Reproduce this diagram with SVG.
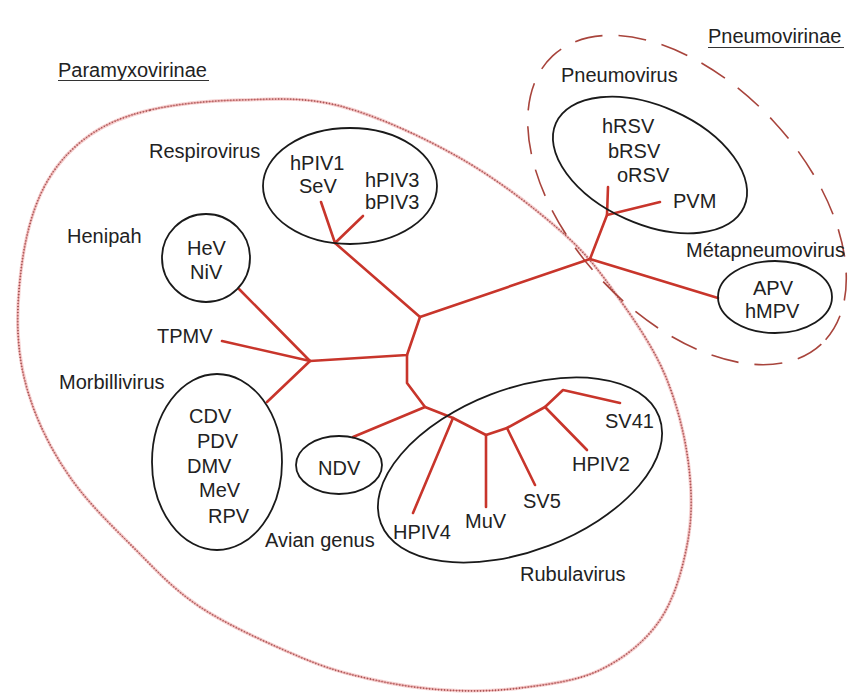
<svg xmlns="http://www.w3.org/2000/svg" width="852" height="693" viewBox="0 0 852 693">
<style>
text{font-family:"Liberation Sans",Arial,Helvetica,sans-serif;font-size:20px;fill:#222}
.box{fill:none;stroke:#1a1a1a;stroke-width:1.8}
.br{fill:none;stroke:#c8352b;stroke-width:2.6;stroke-linecap:round;stroke-linejoin:round}
.ul{stroke:#333;stroke-width:1.2}
</style>
<defs>
<path id="paraOutline" d="M150,110 C175,104.2 208.3,100.7 240,100 C271.7,99.3 303.3,96.3 340,106 C376.7,115.7 422.8,136.8 460,158 C497.2,179.2 536.3,209.3 563,233 C589.7,256.7 603,276.3 620,300 C637,323.7 653.7,348.3 665,375 C676.3,401.7 684.2,432.5 688,460 C691.8,487.5 692.7,513.3 688,540 C683.3,566.7 674.7,598.3 660,620 C645.3,641.7 623.3,658.7 600,670 C576.7,681.3 545.8,684.7 520,688 C494.2,691.3 470,691.5 445,690 C420,688.5 394.2,684.5 370,679 C345.8,673.5 328.3,669 300,657 C271.7,645 227.8,625.3 200,607 C172.2,588.7 154.3,568.2 133,547 C111.7,525.8 88.7,503.3 72,480 C55.3,456.7 42,431.5 33,407 C24,382.5 19.3,360 18,333 C16.7,306 20,270.5 25,245 C30,219.5 37.2,198.3 48,180 C58.8,161.7 73,146.7 90,135 C107,123.3 125,115.8 150,110 Z"/>
</defs>
<rect width="852" height="693" fill="#fff"/>
<g id="paramyxovirinae">
<use href="#paraOutline" fill="none" stroke="#f6d2d2" stroke-width="3.4"/>
<use href="#paraOutline" fill="none" stroke="#e07a7a" stroke-width="0.8"/>
<use href="#paraOutline" fill="none" stroke="#a05656" stroke-width="1.8" stroke-dasharray="1 2"/>
<text x="58" y="77">Paramyxovirinae</text>
<line class="ul" x1="58" y1="80.5" x2="209" y2="80.5"/>
</g>
<g id="pneumovirinae">
<ellipse cx="687" cy="200" rx="197" ry="117" transform="rotate(47 687 200)" fill="none" stroke="#a8443c" stroke-width="1.6" stroke-dasharray="28 16"/>
<text x="708" y="43">Pneumovirinae</text>
<line class="ul" x1="708" y1="47.5" x2="844" y2="47.5"/>
</g>
<g id="connectors">
<path class="br" d="M321,202 L335,243 L363,216"/>
<path class="br" d="M335,243 L420,317 L590,259"/>
<path class="br" d="M420,317 L407,355 L310,361"/>
<path class="br" d="M239,289 L310,361 L222,341"/>
<path class="br" d="M310,361 L267,402"/>
<path class="br" d="M407,355 L407,383 L425,407 L353,437"/>
<path class="br" d="M425,407 L453,418 L486,435 L507,428 L545,407 L563,390 L620,403"/>
<path class="br" d="M453,418 L413,513"/>
<path class="br" d="M486,435 L486,507"/>
<path class="br" d="M507,428 L535,485"/>
<path class="br" d="M545,407 L587,450"/>
<path class="br" d="M590,259 L607,215 L608,187"/>
<path class="br" d="M607,215 L660,202"/>
<path class="br" d="M590,259 L718,298"/>
</g>
<g id="respirovirus">
<ellipse class="box" cx="350" cy="186" rx="87" ry="58"/>
<text x="149" y="158">Respirovirus</text>
<text x="290" y="170">hPIV1</text>
<text x="299" y="193">SeV</text>
<text x="365" y="187">hPIV3</text>
<text x="365" y="209">bPIV3</text>
</g>
<g id="henipah">
<circle class="box" cx="206" cy="258" r="44"/>
<text x="67" y="243">Henipah</text>
<text x="187" y="255">HeV</text>
<text x="190" y="279">NiV</text>
</g>
<g id="tpmv">
<text x="157" y="343">TPMV</text>
</g>
<g id="morbillivirus">
<ellipse class="box" cx="217" cy="462" rx="65" ry="88"/>
<text x="59" y="389">Morbillivirus</text>
<text x="189" y="423">CDV</text>
<text x="197" y="448">PDV</text>
<text x="187" y="473">DMV</text>
<text x="199" y="497">MeV</text>
<text x="208" y="523">RPV</text>
</g>
<g id="avian">
<ellipse class="box" cx="339" cy="465" rx="43" ry="29"/>
<text x="318" y="475">NDV</text>
<text x="265" y="547">Avian genus</text>
</g>
<g id="rubulavirus">
<ellipse class="box" cx="520" cy="470" rx="149" ry="81" transform="rotate(-21 520 470)"/>
<text x="393" y="539">HPIV4</text>
<text x="465" y="528">MuV</text>
<text x="523" y="508">SV5</text>
<text x="572" y="471">HPIV2</text>
<text x="605" y="428">SV41</text>
<text x="520" y="581">Rubulavirus</text>
</g>
<g id="pneumovirus">
<ellipse class="box" cx="650" cy="165" rx="103" ry="59" transform="rotate(24 650 165)"/>
<text x="561" y="82">Pneumovirus</text>
<text x="602" y="133">hRSV</text>
<text x="608" y="158">bRSV</text>
<text x="617" y="182">oRSV</text>
<text x="673" y="208">PVM</text>
</g>
<g id="metapneumovirus">
<ellipse class="box" cx="775" cy="297" rx="57" ry="36"/>
<text x="686" y="257">Métapneumovirus</text>
<text x="753" y="295">APV</text>
<text x="745" y="318">hMPV</text>
</g>
</svg>
